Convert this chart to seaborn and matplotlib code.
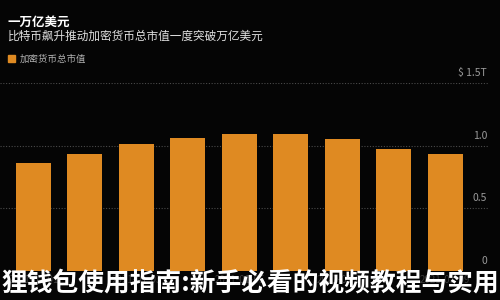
import matplotlib
matplotlib.use("Agg")
import matplotlib.pyplot as plt
import matplotlib.transforms as mtransforms
import seaborn as sns
import pandas as pd

dates = ["2021-01-01", "2021-01-02", "2021-01-03", "2021-01-04", "2021-01-05",
         "2021-01-06", "2021-01-07", "2021-01-08", "2021-01-09"]
market_cap = [0.86, 0.93, 1.015, 1.06, 1.09, 1.095, 1.055, 0.97, 0.93]
tick_labels = ["2021-01-01", "", "2021-01-03", "", "2021-01-05", "", "2021-01-07", "", "2021-01-09"]
y_ticks = [0, 0.5, 1.0, 1.5]
y_tick_labels = ["0", "0.5", "1.0", "$ 1.5T"]

title = "一万亿美元"
subtitle = "比特币飙升推动加密货币总市值一度突破万亿美元"
legend_label = "加密货币总市值"
overlay = "狸钱包使用指南:新手必看的视频教程与实用"

sns.set_theme(style="dark")
plt.rcParams['font.family'] = ['Noto Sans CJK SC', 'DejaVu Sans']

bg = "#050505"
bar_color = "#DF8A22"

fig = plt.figure(figsize=(5, 3), dpi=100, facecolor=bg)
ax = fig.add_axes([0.0, 0.0967, 0.976, 0.6266])
ax.set_facecolor(bg)

df = pd.DataFrame({"date": dates, "value": market_cap})
sns.barplot(data=df, x="date", y="value", color=bar_color, saturation=1,
            width=0.68, linewidth=0, edgecolor="none", ax=ax)

ax.set_xlim(-0.65, 8.83)
ax.set_ylim(0, 1.5)
for s in ax.spines.values():
    s.set_visible(False)
ax.set_xlabel("")
ax.set_ylabel("")
ax.set_yticks([])
ax.set_xticks(range(len(dates)))
ax.set_xticklabels(tick_labels, color="#3a3a3a", fontsize=7)
ax.tick_params(axis="x", length=0, pad=3)
ax.grid(False)

for yv in y_ticks[1:]:
    ax.axhline(yv, color="#4a4a4a", lw=0.8, ls=(0, (1, 1.5)), zorder=0)
ax.axhline(0, color="#2a2a2a", lw=0.8, zorder=0)

trans = mtransforms.blended_transform_factory(ax.transAxes, ax.transData)
for yv, lab in zip(y_ticks, y_tick_labels):
    ax.text(0.998, yv + 0.04, lab, transform=trans, ha="right", va="bottom",
            color="#9a9a9a", fontsize=7.5)

fig.text(0.016, 0.927, title, color="white", fontsize=9, fontweight="bold",
         va="center", ha="left")
fig.text(0.016, 0.88, subtitle, color="#e0e0e0", fontsize=8.4,
         va="center", ha="left")
fig.patches.append(plt.Rectangle((0.016, 0.793), 0.014, 0.023, color=bar_color,
                                 transform=fig.transFigure, figure=fig))
fig.text(0.04, 0.802, legend_label, color="#b0b0b0", fontsize=6.8,
         va="center", ha="left")

fig.text(0.5, 0.057, overlay, color="white", fontsize=18.5, fontweight="heavy",
         va="center", ha="center")

fig.savefig("out.png", dpi=100, facecolor=bg)
